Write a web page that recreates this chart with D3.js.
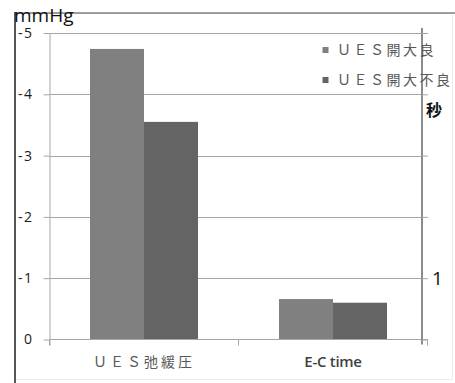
<!DOCTYPE html>
<html>
<head>
<meta charset="utf-8">
<script src="https://cdn.jsdelivr.net/npm/d3@7"></script>
<style>
  html, body { margin: 0; padding: 0; background: #fff; }
  svg { display: block; }
</style>
</head>
<body>
<svg id="chart" width="455" height="383"></svg>
<script>
// Categories and series
const categories = ["ＵＥＳ弛緩圧", "E-C time"];
const seriesNames = ["ＵＥＳ開大良", "ＵＥＳ開大不良"];
const seriesColors = ["#808080", "#646464"];

// UES relaxation pressure (mmHg, left axis) and E-C time (seconds, right axis)
const uesPressure = [-4.74, -3.55];
const ecTime = [0.66, 0.60];

// Axis ticks
const leftTicks = [0, -1, -2, -3, -4, -5];
const rightTicks = [0, 1, 2, 3, 4, 5];
const rightLabelled = [1];

const svg = d3.select("#chart");
const jpFont = "'Noto Sans CJK JP', 'Noto Sans', sans-serif";
const numFont = "'Open Sans', 'Noto Sans', sans-serif";

const plotLeft = 49.5, plotRight = 422, catRight = 427.5;
const yTop = 33, yBottom = 339.5;

const yLeft = d3.scaleLinear().domain([0, -5]).range([yBottom, yTop]);
const yRight = d3.scaleLinear().domain([0, 5]).range([yBottom, yTop]);
const x = d3.scaleBand().domain(categories).range([plotLeft, catRight]);
const xs = d3.scaleBand().domain(seriesNames).range([0, x.bandwidth()])
  .paddingInner(0).paddingOuter(0.75);

// Faint chart-area border
svg.append("rect")
  .attr("x", 15.5).attr("y", 13.5).attr("width", 437).attr("height", 366)
  .attr("fill", "none").attr("stroke", "#ececec");

// Gridlines
svg.append("g").selectAll("line").data(leftTicks.filter(d => d !== 0)).join("line")
  .attr("x1", plotLeft).attr("x2", plotRight)
  .attr("y1", d => Math.round(yLeft(d)) + 0.5).attr("y2", d => Math.round(yLeft(d)) + 0.5)
  .attr("stroke", "#a6a6a6").attr("stroke-width", 1);

// Bars
const rows = [
  { cat: categories[0], values: uesPressure, scale: yLeft },
  { cat: categories[1], values: ecTime, scale: yRight }
];
rows.forEach(r => {
  svg.append("g").selectAll("rect").data(r.values).join("rect")
    .attr("x", (d, i) => x(r.cat) + xs(seriesNames[i]))
    .attr("width", xs.bandwidth())
    .attr("y", d => r.scale(d))
    .attr("height", d => yBottom - r.scale(d))
    .attr("fill", (d, i) => seriesColors[i]);
});

// Left axis (mmHg)
const leftAxis = svg.append("g")
  .attr("transform", `translate(${plotLeft},0)`)
  .call(d3.axisLeft(yLeft).tickValues(leftTicks).tickSize(6).tickPadding(10)
    .tickSizeOuter(0).tickFormat(d => d === 0 ? "0" : "-" + Math.abs(d)));
leftAxis.select(".domain").attr("stroke", "#a6a6a6")
  .attr("d", `M0.5,${yTop}V${yBottom + 6}`);
leftAxis.selectAll(".tick line").attr("stroke", "#a6a6a6");
leftAxis.selectAll(".tick text")
  .attr("font-family", numFont).attr("font-size", 14).attr("fill", "#1a1a1a")
  .attr("letter-spacing", 1.5);

// Category axis along the bottom
const xAxisG = svg.append("g");
xAxisG.append("line")
  .attr("x1", plotLeft).attr("x2", catRight)
  .attr("y1", yBottom).attr("y2", yBottom)
  .attr("stroke", "#a6a6a6");
const bounds = categories.map(c => x(c)).concat([x.range()[1]]);
xAxisG.selectAll("line.tk").data(bounds).join("line").attr("class", "tk")
  .attr("x1", d => d).attr("x2", d => d)
  .attr("y1", yBottom).attr("y2", yBottom + 6)
  .attr("stroke", "#a6a6a6");
xAxisG.selectAll("text").data(categories).join("text")
  .attr("x", d => x(d) + x.bandwidth() / 2)
  .attr("y", 367)
  .attr("text-anchor", "middle")
  .attr("font-family", (d, i) => i === 0 ? jpFont : numFont)
  .attr("font-size", (d, i) => i === 0 ? 14 : 15)
  .attr("font-weight", (d, i) => i === 0 ? "normal" : 600)
  .attr("letter-spacing", (d, i) => i === 0 ? 3 : -0.3)
  .attr("fill", (d, i) => i === 0 ? "#595959" : "#404040")
  .text(d => d);

// Right axis (seconds)
const rightAxis = svg.append("g")
  .attr("transform", `translate(${plotRight},0)`)
  .call(d3.axisRight(yRight).tickValues(rightTicks).tickSize(6).tickPadding(4)
    .tickSizeOuter(0).tickFormat(d => rightLabelled.includes(d) ? d : ""));
rightAxis.select(".domain").attr("stroke", "#8c8c8c").attr("stroke-width", 2)
  .attr("d", `M0,${yTop - 5}V${yBottom + 5}`);
rightAxis.selectAll(".tick line").attr("stroke", "#a6a6a6");
rightAxis.selectAll(".tick text")
  .attr("font-family", numFont).attr("font-size", 19).attr("fill", "#111");

// Legend
const legend = svg.append("g");
seriesNames.forEach((name, i) => {
  const ly = 50 + i * 30;
  legend.append("rect")
    .attr("x", 322.5).attr("y", ly - 3).attr("width", 6).attr("height", 6)
    .attr("fill", seriesColors[i]);
  legend.append("text")
    .attr("x", 337).attr("y", ly + 5)
    .attr("font-family", jpFont).attr("font-size", 14).attr("letter-spacing", 2.5)
    .attr("fill", "#595959")
    .text(name);
});

// Unit labels
svg.append("text")
  .attr("x", 434).attr("y", 116).attr("text-anchor", "middle")
  .attr("font-family", jpFont).attr("font-size", 16).attr("font-weight", "bold")
  .attr("fill", "#111").text("秒");

svg.append("line").attr("x1", 15).attr("x2", 455).attr("y1", 13).attr("y2", 13)
  .attr("stroke", "#444").attr("stroke-width", 1.2);
svg.append("line").attr("x1", 15).attr("x2", 15).attr("y1", 12).attr("y2", 383)
  .attr("stroke", "#222").attr("stroke-width", 1.5);

svg.append("text")
  .attr("x", 14).attr("y", 21.5)
  .attr("font-family", numFont).attr("font-size", 19).attr("fill", "#111")
  .text("mmHg");
</script>
</body>
</html>
